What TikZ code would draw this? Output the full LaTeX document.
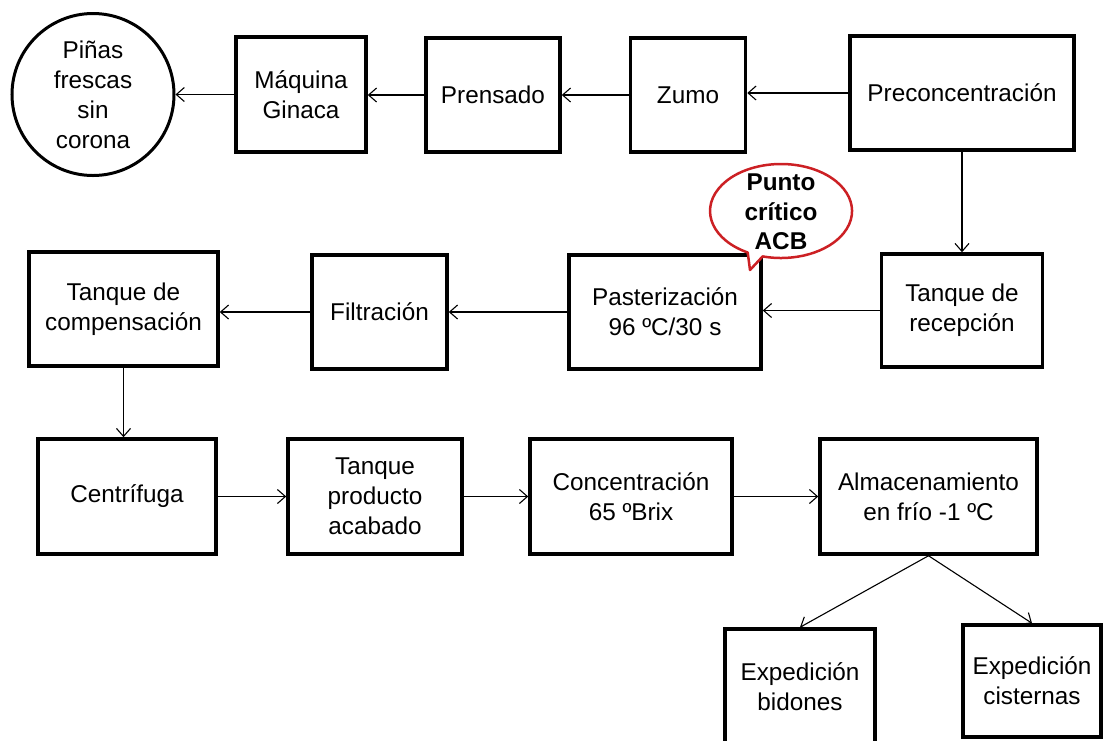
\documentclass[tikz,border=0pt]{standalone}
\usepackage{fontspec}
\setmainfont{Liberation Sans}
\usetikzlibrary{arrows.meta}
\definecolor{callred}{RGB}{204,32,36}
\begin{document}
\begin{tikzpicture}[x=1pt,y=-1pt,
  box/.style={draw, line width=3.5pt, inner sep=0pt, align=center,
    font=\fontsize{24.3pt}{30pt}\selectfont},
  flow/.style={-{Straight Barb[length=8pt,width=14pt]}, line width=1.1pt}]
\clip (0,0) rectangle (1105,740);

% row 1: raw material to pre-concentration
\node[box, circle, line width=3pt, minimum size=162pt] (pina) at (93,94.5)
  {Piñas\\frescas\\sin\\corona};
\node[box, minimum width=130pt, minimum height=115pt] (ginaca) at (301,94.5) {Máquina\\Ginaca};
\node[box, minimum width=134pt, minimum height=114pt] (prensado) at (493,95) {Prensado};
\node[box, minimum width=115pt, minimum height=114pt] (zumo) at (688,95) {Zumo};
\node[box, minimum width=224pt, minimum height=114pt] (precon) at (962,93) {Preconcentración};

% row 2
\node[box, minimum width=161pt, minimum height=113pt] (recep) at (962,310.5) {Tanque de\\recepción};
\node[box, minimum width=192pt, minimum height=114pt] (paster) at (665,312) {Pasterización\\96 ºC/30 s};
\node[box, minimum width=135pt, minimum height=114pt] (filtra) at (379.5,312) {Filtración};
\node[box, minimum width=189pt, minimum height=114pt] (compen) at (123.5,309) {Tanque de\\compensación};

% row 3
\node[box, minimum width=178pt, minimum height=115pt] (centri) at (127,496.5) {Centrífuga};
\node[box, minimum width=174pt, minimum height=115pt] (tanqprod) at (375,496.5) {Tanque\\producto\\acabado};
\node[box, minimum width=202pt, minimum height=115pt] (concen) at (631,496.5) {Concentración\\65 ºBrix};
\node[box, minimum width=217pt, minimum height=115pt] (almac) at (928.5,496.5) {Almacenamiento\\en frío -1 ºC};

% row 4: dispatch
\node[box, minimum width=150pt, minimum height=116pt] (bidones) at (800,687) {Expedición\\bidones};
\node[box, minimum width=138pt, minimum height=112pt] (cisternas) at (1032,681) {Expedición\\cisternas};

% connectors
\draw[flow] (ginaca.west) -- (pina.east);
\draw[flow] (prensado.west) -- (ginaca.east |- prensado.west);
\draw[flow] (zumo.west) -- (prensado.east);
\draw[flow] (precon.west) -- (zumo.east |- precon.west);
\draw[flow] (precon.south) -- (recep.north);
\draw[flow] (recep.west) -- (paster.east |- recep.west);
\draw[flow] (paster.west) -- (filtra.east);
\draw[flow] (filtra.west) -- (compen.east |- filtra.west);
\draw[flow] (compen.south) -- (compen.south |- centri.north);
\draw[flow] (centri.east) -- (tanqprod.west);
\draw[flow] (tanqprod.east) -- (concen.west);
\draw[flow] (concen.east) -- (almac.west);
\draw[flow] (almac.south) -- (bidones.north);
\draw[flow] (almac.south) -- (cisternas.north);

% speech bubble marking the critical control point
\draw[callred, line width=2.5pt, fill=white, line join=round]
  (747.7,252.5) arc[start angle=118, end angle=465, x radius=71, y radius=47]
  -- (750,270) -- cycle;
\node[font=\bfseries\fontsize{24.3pt}{29.5pt}\selectfont, align=center] (pcc) at (781,212)
  {Punto\\crítico\\ACB};
\end{tikzpicture}
\end{document}
